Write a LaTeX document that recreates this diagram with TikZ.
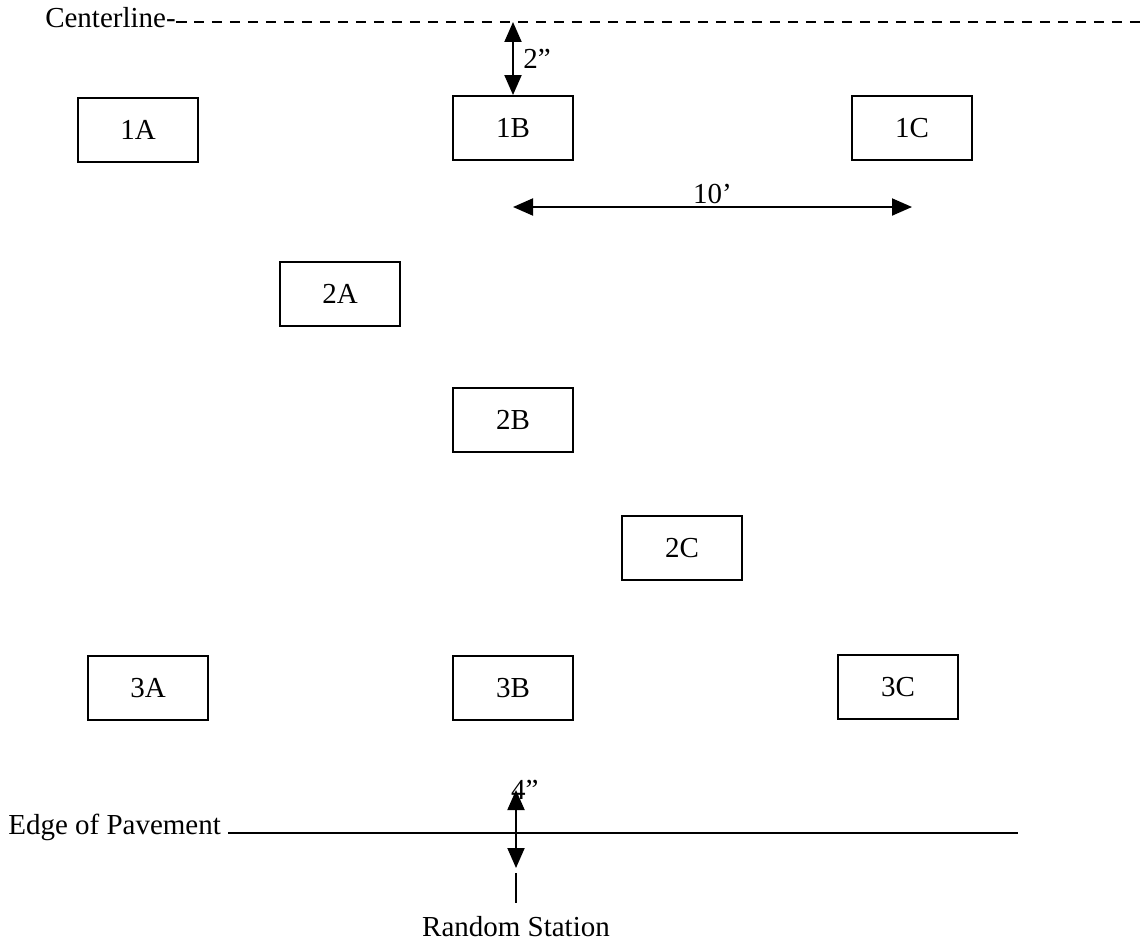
\documentclass[tikz,border=0pt]{standalone}
\usepackage{fontspec}
\setmainfont{Liberation Serif}
\usepackage{tikz}
\usetikzlibrary{arrows.meta, calc}
\tikzstyle{plot} = [rectangle, minimum width=2.4cm, minimum height=1.28cm, text centered, draw=black, line width=1.1pt]
\tikzstyle{dim} = [line width=1.1pt, {Triangle[length=4mm,width=3.4mm]}-{Triangle[length=4mm,width=3.4mm]}]
\tikzstyle{guide} = [line width=1pt]

\begin{document}
\begin{tikzpicture}[x=0.02cm, y=-0.02cm, font=\fontsize{16.5}{19}\selectfont]
		\useasboundingbox (0,0) rectangle (1141,943);
		
		% Nodes
		\node (b1a) [plot] at (138,130) {1A};
		\node (b1b) [plot] at (513,128) {1B};
		\node (b1c) [plot] at (912,128) {1C};
		\node (b2a) [plot] at (340,294) {2A};
		\node (b2b) [plot] at (513,420) {2B};
		\node (b2c) [plot] at (682,548) {2C};
		\node (b3a) [plot] at (148,688) {3A};
		\node (b3b) [plot] at (513,688) {3B};
		\node (b3c) [plot] at (898,687) {3C};
		
		% Centerline
		\node (center) [anchor=base east, inner sep=0pt] at (176,28) {Centerline-};
		\coordinate (clend) at (1141,22);
		\draw [line width=1.5pt, dash pattern=on 0.21cm off 0.15cm] (center.east |- clend) -- (clend);
		
		% Edge of pavement
		\node (edge) [anchor=base west, inner sep=0pt] at (8,834) {Edge of Pavement};
		\coordinate (edgeend) at (1018,833);
		\draw [guide] ($(edge.east |- edgeend)+(7,0)$) -- (edgeend);
		
		% Random station
		\node (station) [anchor=base, inner sep=0pt] at (516,936) {Random Station};
		\coordinate (tick) at (516,873);
		\coordinate (four) at (516,790);
		\draw [guide] (tick) -- (station.north |- 0,903);
		
		% Arrows
		\draw [dim] (b1b.north |- clend) -- node[right, xshift=2pt] {2''} (b1b.north);
		\draw [dim] (b1b.south |- 0,207) -- node[above, inner sep=1pt] {10'} (b1c.south |- 0,207);
		\draw [dim] (four) -- (four |- 0,868);
		\node (fourlab) [right, inner sep=0pt, xshift=-3pt] at (four) {4''};
		
	\end{tikzpicture}
\end{document}
